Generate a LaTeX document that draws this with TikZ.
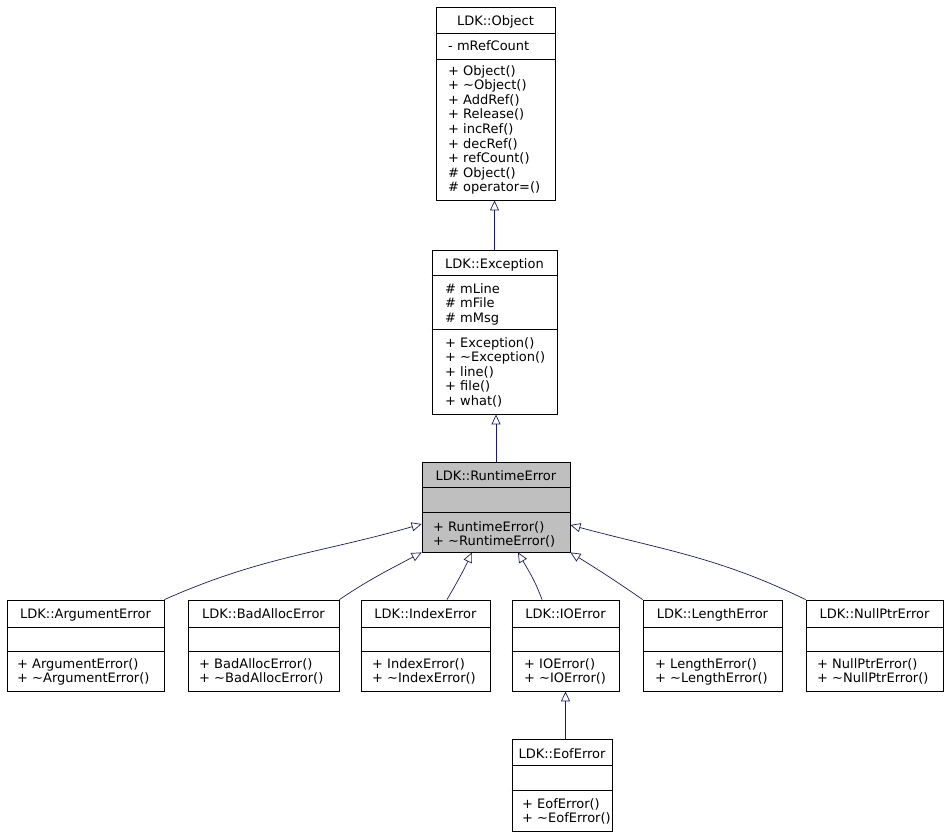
\documentclass[tikz,border=0pt]{standalone}
\usepackage{fontspec}
\setmainfont{DejaVu Sans}
\usetikzlibrary{arrows.meta}
\definecolor{edgeblue}{HTML}{191970}
\definecolor{curgray}{HTML}{BFBFBF}

\begin{document}
\begin{tikzpicture}[x=1pt,y=-1pt,
  cls/.style={draw,inner sep=0pt,line width=0.8pt},
  mem/.style={inner sep=0pt,anchor=base west,font=\fontsize{13}{14.6}\selectfont},
  ttl/.style={inner sep=0pt,anchor=base,font=\fontsize{13}{14.6}\selectfont},
  inh/.style={draw=edgeblue,line width=0.7pt,-{Triangle[open,length=10pt,width=9pt]}}]
\useasboundingbox (0,0) rectangle (947,835);

% LDK::Object
\node[cls,minimum width=119pt,minimum height=193pt] (obj) at (495.5,103.5) {};
\draw (obj.west |- 0,33) -- (obj.east |- 0,33);
\draw (obj.west |- 0,59) -- (obj.east |- 0,59);
\node[ttl] (objt) at (495.5,25) {LDK::Object};
\node[mem] (obja) at (448,50) {- mRefCount};
\foreach \m [count=\i from 0] in {+ Object(), + \textasciitilde Object(), + AddRef(), + Release(),
    + incRef(), + decRef(), + refCount(), \# Object(), \# operator=()}
  \node[mem] (objm\i) at (448,75+14.6*\i) {\m};

% LDK::Exception
\node[cls,minimum width=125pt,minimum height=164pt] (exc) at (494.5,332) {};
\draw (exc.west |- 0,275) -- (exc.east |- 0,275);
\draw (exc.west |- 0,329) -- (exc.east |- 0,329);
\node[ttl] (exct) at (494.5,268) {LDK::Exception};
\foreach \m [count=\i from 0] in {\# mLine, \# mFile, \# mMsg}
  \node[mem] (exca\i) at (445,293+14.6*\i) {\m};
\foreach \m [count=\i from 0] in {+ Exception(), + \textasciitilde Exception(), + line(), + file(), + what()}
  \node[mem] (excm\i) at (445,347+14.6*\i) {\m};

% LDK::RuntimeError
\node[cls,fill=curgray,minimum width=148pt,minimum height=90pt] (rt) at (496,507) {};
\draw (rt.west |- 0,487) -- (rt.east |- 0,487);
\draw (rt.west |- 0,512) -- (rt.east |- 0,512);
\node[ttl] (rtt) at (496,480) {LDK::RuntimeError};
\node[mem] (rtm0) at (433,531) {+ RuntimeError()};
\node[mem] (rtm1) at (433,545.6) {+ \textasciitilde RuntimeError()};

% LDK::ArgumentError
\node[cls,minimum width=157pt,minimum height=91pt] (arg) at (85.5,645.5) {};
\draw (arg.west |- 0,627) -- (arg.east |- 0,627);
\draw (arg.west |- 0,651) -- (arg.east |- 0,651);
\node[ttl] (argt) at (85.5,618) {LDK::ArgumentError};
\node[mem] (argm0) at (17,668) {+ ArgumentError()};
\node[mem] (argm1) at (17,682.6) {+ \textasciitilde ArgumentError()};

% LDK::BadAllocError
\node[cls,minimum width=151pt,minimum height=91pt] (bad) at (263.5,645.5) {};
\draw (bad.west |- 0,627) -- (bad.east |- 0,627);
\draw (bad.west |- 0,651) -- (bad.east |- 0,651);
\node[ttl] (badt) at (263.5,618) {LDK::BadAllocError};
\node[mem] (badm0) at (199,668) {+ BadAllocError()};
\node[mem] (badm1) at (199,682.6) {+ \textasciitilde BadAllocError()};

% LDK::IndexError
\node[cls,minimum width=129pt,minimum height=91pt] (idx) at (425.5,645.5) {};
\draw (idx.west |- 0,627) -- (idx.east |- 0,627);
\draw (idx.west |- 0,651) -- (idx.east |- 0,651);
\node[ttl] (idxt) at (425.5,618) {LDK::IndexError};
\node[mem] (idxm0) at (372,668) {+ IndexError()};
\node[mem] (idxm1) at (372,682.6) {+ \textasciitilde IndexError()};

% LDK::IOError
\node[cls,minimum width=107pt,minimum height=91pt] (io) at (565.5,645.5) {};
\draw (io.west |- 0,627) -- (io.east |- 0,627);
\draw (io.west |- 0,651) -- (io.east |- 0,651);
\node[ttl] (iot) at (565.5,618) {LDK::IOError};
\node[mem] (iom0) at (524,668) {+ IOError()};
\node[mem] (iom1) at (524,682.6) {+ \textasciitilde IOError()};

% LDK::LengthError
\node[cls,minimum width=139pt,minimum height=91pt] (len) at (712.5,645.5) {};
\draw (len.west |- 0,627) -- (len.east |- 0,627);
\draw (len.west |- 0,651) -- (len.east |- 0,651);
\node[ttl] (lent) at (712.5,618) {LDK::LengthError};
\node[mem] (lenm0) at (655,668) {+ LengthError()};
\node[mem] (lenm1) at (655,682.6) {+ \textasciitilde LengthError()};

% LDK::NullPtrError
\node[cls,minimum width=137pt,minimum height=91pt] (np) at (874.5,645.5) {};
\draw (np.west |- 0,627) -- (np.east |- 0,627);
\draw (np.west |- 0,651) -- (np.east |- 0,651);
\node[ttl] (npt) at (874.5,618) {LDK::NullPtrError};
\node[mem] (npm0) at (817,668) {+ NullPtrError()};
\node[mem] (npm1) at (817,682.6) {+ \textasciitilde NullPtrError()};

% LDK::EofError
\node[cls,minimum width=100pt,minimum height=92pt] (eof) at (562,785) {};
\draw (eof.west |- 0,765) -- (eof.east |- 0,765);
\draw (eof.west |- 0,790) -- (eof.east |- 0,790);
\node[ttl] (eoft) at (562,758) {LDK::EofError};
\node[mem] (eofm0) at (522,808) {+ EofError()};
\node[mem] (eofm1) at (522,822.6) {+ \textasciitilde EofError()};

% inheritance
\draw[inh] (exc.north) -- (exc.north |- obj.south);
\draw[inh] (rt.north) -- (rt.north |- exc.south);
\draw[inh] (arg.north east) to[out=24,in=196] ([yshift=-17pt]rt.west);
\draw[inh] (bad.north east) to[out=34,in=208] (rt.south west);
\draw[inh] ([xshift=21.5pt]idx.north) to[out=60,in=245] ([xshift=-24pt]rt.south);
\draw[inh] ([xshift=-23.5pt]io.north) to[out=110,in=300] ([xshift=22pt]rt.south);
\draw[inh] (len.north west) to[out=145,in=328] (rt.south east);
\draw[inh] (np.north west) to[out=154,in=345] ([yshift=-18pt]rt.east);
\draw[inh] (io.south |- eof.north) -- (io.south);
\end{tikzpicture}
\end{document}
